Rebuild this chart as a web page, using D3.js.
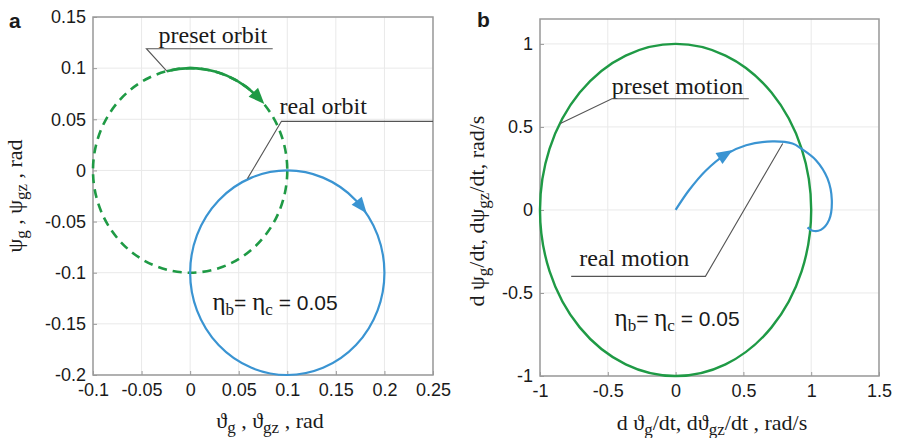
<!DOCTYPE html>
<html>
<head>
<meta charset="utf-8">
<script src="https://cdn.jsdelivr.net/npm/d3@7"></script>
<style>
  html, body { margin: 0; padding: 0; background: #fff; }
  svg { display: block; }
  .tick text { font-family: "Liberation Sans", Arial, sans-serif; font-size: 18px; fill: #1a1a1a; }
  .serif { font-family: "Liberation Serif", "Times New Roman", "DejaVu Serif", serif; fill: #1a1a1a; }
  .sans { font-family: "Liberation Sans", Arial, sans-serif; fill: #1a1a1a; }
</style>
</head>
<body>
<svg id="chart" width="898" height="438"></svg>
<script>
// ---- panel a: orbits (rad) ----
const orbitXTicks = [-0.1, -0.05, 0, 0.05, 0.1, 0.15, 0.2, 0.25];
const orbitYTicks = [-0.2, -0.15, -0.1, -0.05, 0, 0.05, 0.1, 0.15];
const presetOrbit = [0, 0, 0.1];        // centre x, centre y, radius
const realOrbit = [0.1, -0.1, 0.1];     // centre x, centre y, radius

// ---- panel b: angular rates (rad/s) ----
const motionXTicks = [-1, -0.5, 0, 0.5, 1, 1.5];
const motionYTicks = [-1, -0.5, 0, 0.5, 1];
const presetMotion = [0, 0, 1];         // centre x, centre y, radius
const realMotionX = [0, 0.1, 0.22, 0.37, 0.52, 0.715, 0.862, 0.926, 1.035, 1.12, 1.152, 1.132, 1.071, 1.01, 0.973];
const realMotionY = [0, 0.12, 0.235, 0.335, 0.39, 0.413, 0.40, 0.37, 0.30, 0.19, 0.06, -0.06, -0.12, -0.125, -0.105];

const GREEN = "#1f9a45";
const BLUE = "#3a94d2";
const svg = d3.select("#chart");

function frame(x, y, xTicks, yTicks) {
  const g = svg.append("g");
  const [x0, x1] = x.range(), [y0, y1] = y.range();
  // grid
  g.append("g").selectAll("line").data(xTicks).join("line")
    .attr("x1", d => x(d)).attr("x2", d => x(d)).attr("y1", y0).attr("y2", y1)
    .attr("stroke", "#e9e9e9").attr("stroke-width", 1);
  g.append("g").selectAll("line").data(yTicks).join("line")
    .attr("y1", d => y(d)).attr("y2", d => y(d)).attr("x1", x0).attr("x2", x1)
    .attr("stroke", "#e9e9e9").attr("stroke-width", 1);
  // axes
  const ax = g.append("g").attr("transform", `translate(0,${y0})`)
    .call(d3.axisBottom(x).tickValues(xTicks).tickFormat(d => String(d)).tickSize(-4).tickPadding(8));
  const ay = g.append("g").attr("transform", `translate(${x0},0)`)
    .call(d3.axisLeft(y).tickValues(yTicks).tickFormat(d => String(d)).tickSize(-4).tickPadding(7));
  [ax, ay].forEach(a => {
    a.select(".domain").remove();
    a.selectAll(".tick line").attr("stroke", "#9a9a9a");
  });
  // box
  g.append("rect").attr("x", x0).attr("y", y1).attr("width", x1 - x0).attr("height", y0 - y1)
    .attr("fill", "none").attr("stroke", "#9a9a9a").attr("stroke-width", 1.5);
  return g;
}

function arrowHead(g, px, py, ang, color) {
  const L = 16, W = 6.5;
  const c = Math.cos(ang), s = Math.sin(ang);
  const tx = px + c * L / 2, ty = py + s * L / 2;
  const bx = px - c * L / 2, by = py - s * L / 2;
  g.append("path")
    .attr("d", `M${tx},${ty}L${bx - s * W},${by + c * W}L${bx + s * W},${by - c * W}Z`)
    .attr("fill", color);
}

// arrowhead on a circle, pointing clockwise along it
function circleArrow(g, x, y, circ, deg, color) {
  const [cx, cy, r] = circ;
  const t = deg * Math.PI / 180;
  const rx = x(cx + r) - x(cx), ry = y(cy - r) - y(cy);
  const px = x(cx + r * Math.cos(t)), py = y(cy + r * Math.sin(t));
  arrowHead(g, px, py, Math.atan2(ry * Math.cos(t), rx * Math.sin(t)), color);
}

function drawEllipse(g, x, y, circ) {
  const [cx, cy, r] = circ;
  return g.append("ellipse")
    .attr("cx", x(cx)).attr("cy", y(cy))
    .attr("rx", x(cx + r) - x(cx)).attr("ry", y(cy - r) - y(cy))
    .attr("fill", "none");
}

// label with underline; leader runs from the left end of the underline
function leader(g, x, y, a) {
  g.append("text").attr("class", "serif").attr("x", x(a.tx)).attr("y", y(a.ty))
    .attr("font-size", 24).text(a.text);
  g.append("path")
    .attr("d", `M${x(a.ax)},${y(a.ay)}L${x(a.u1)},${y(a.uy)}L${x(a.u2)},${y(a.uy)}`)
    .attr("fill", "none").attr("stroke", "#555").attr("stroke-width", 1.1);
}

// label with underline; leader runs from the right end of the underline
function leaderRight(g, x, y, a) {
  g.append("text").attr("class", "serif").attr("x", x(a.tx)).attr("y", y(a.ty))
    .attr("font-size", 24).text(a.text);
  g.append("path")
    .attr("d", `M${x(a.u1)},${y(a.uy)}L${x(a.u2)},${y(a.uy)}L${x(a.ax)},${y(a.ay)}`)
    .attr("fill", "none").attr("stroke", "#555").attr("stroke-width", 1.1);
}

function etaLabel(g, px, py) {
  const t = g.append("text").attr("x", px).attr("y", py).attr("font-size", 21);
  t.append("tspan").attr("class", "serif").attr("font-size", 25).text("η");
  t.append("tspan").attr("class", "serif").attr("font-size", 17).attr("dy", 5).text("b");
  t.append("tspan").attr("class", "sans").attr("dy", -5).text("= ");
  t.append("tspan").attr("class", "serif").attr("font-size", 25).text("η");
  t.append("tspan").attr("class", "serif").attr("font-size", 17).attr("dy", 5).text("c");
  t.append("tspan").attr("class", "sans").attr("dy", -5).text(" = 0.05");
}

// axis title made of [text, isSubscript] parts
function title(g, px, py, parts, rotate) {
  const t = g.append("text").attr("class", "serif")
    .attr("text-anchor", "middle")
    .attr("transform", `translate(${px},${py})${rotate ? " rotate(-90)" : ""}`);
  let level = 0;
  parts.forEach(([s, sub]) => {
    const target = sub ? 5 : 0;
    t.append("tspan").attr("font-size", sub ? 17 : 22).attr("dy", target - level).text(s);
    level = target;
  });
}

// ================= panel a =================
const xa = d3.scaleLinear().domain([-0.1, 0.25]).range([93, 433]);
const ya = d3.scaleLinear().domain([-0.2, 0.15]).range([375, 17]);
const ga = frame(xa, ya, orbitXTicks, orbitYTicks);

drawEllipse(ga, xa, ya, presetOrbit)
  .attr("stroke", GREEN).attr("stroke-width", 2.6).attr("stroke-dasharray", "9,6");
{
  // solid stretch of the preset orbit leading into the direction arrow
  const [cx, cy, r] = presetOrbit;
  const rx = xa(cx + r) - xa(cx), ry = ya(cy - r) - ya(cy);
  const a0 = 104 * Math.PI / 180, a1 = 45 * Math.PI / 180;
  ga.append("path")
    .attr("d", `M${xa(cx + r * Math.cos(a0))},${ya(cy + r * Math.sin(a0))}A${rx},${ry} 0 0 1 ${xa(cx + r * Math.cos(a1))},${ya(cy + r * Math.sin(a1))}`)
    .attr("fill", "none").attr("stroke", GREEN).attr("stroke-width", 2.6);
}
circleArrow(ga, xa, ya, presetOrbit, 45, GREEN);

drawEllipse(ga, xa, ya, realOrbit).attr("stroke", BLUE).attr("stroke-width", 2.2);
circleArrow(ga, xa, ya, realOrbit, 40, BLUE);

leader(ga, xa, ya, { text: "preset orbit", tx: -0.0325, ty: 0.125, ax: -0.024, ay: 0.097, u1: -0.045, u2: 0.085, uy: 0.119 });
leader(ga, xa, ya, { text: "real orbit", tx: 0.092, ty: 0.055, ax: 0.059, ay: -0.008, u1: 0.094, u2: 0.25, uy: 0.048 });
etaLabel(ga, xa(0.023), ya(-0.136));

svg.append("text").attr("class", "sans").attr("font-weight", "bold").attr("font-size", 21)
  .attr("x", 9).attr("y", 28).text("a");

title(svg, 270, 428, [["ϑ"], ["g", true], [" , ϑ"], ["gz", true], [" ,  rad"]], false);
title(svg, 22, 196, [["ψ"], ["g", true], [" , ψ"], ["gz", true], [" ,  rad"]], true);

// ================= panel b =================
const xb = d3.scaleLinear().domain([-1, 1.5]).range([540, 879]);
const yb = d3.scaleLinear().domain([-1, 1.15]).range([376, 19]);
const gb = frame(xb, yb, motionXTicks, motionYTicks);

drawEllipse(gb, xb, yb, presetMotion).attr("stroke", GREEN).attr("stroke-width", 2.4);

const realMotion = realMotionX.map((v, i) => [v, realMotionY[i]]);
gb.append("path").datum(realMotion)
  .attr("d", d3.line().x(d => xb(d[0])).y(d => yb(d[1])).curve(d3.curveCatmullRom))
  .attr("fill", "none").attr("stroke", BLUE).attr("stroke-width", 2.2);
{
  const p = realMotion[3], a = realMotion[2], b = realMotion[4];
  arrowHead(gb, xb(p[0]), yb(p[1]), Math.atan2(yb(b[1]) - yb(a[1]), xb(b[0]) - xb(a[0])), BLUE);
}

leader(gb, xb, yb, { text: "preset motion", tx: -0.47, ty: 0.70, ax: -0.85, ay: 0.52, u1: -0.47, u2: 0.54, uy: 0.67 });
leaderRight(gb, xb, yb, { text: "real motion", tx: -0.71, ty: -0.34, ax: 0.79, ay: 0.40, u1: -0.77, u2: 0.22, uy: -0.40 });
etaLabel(gb, xb(-0.45), yb(-0.70));

svg.append("text").attr("class", "sans").attr("font-weight", "bold").attr("font-size", 21)
  .attr("x", 477).attr("y", 27).text("b");

title(svg, 712, 430, [["d ϑ"], ["g", true], ["/dt, dϑ"], ["gz", true], ["/dt , rad/s"]], false);
title(svg, 484, 211, [["d ψ"], ["g", true], ["/dt, dψ"], ["gz", true], ["/dt,  rad/s"]], true);
</script>
</body>
</html>
